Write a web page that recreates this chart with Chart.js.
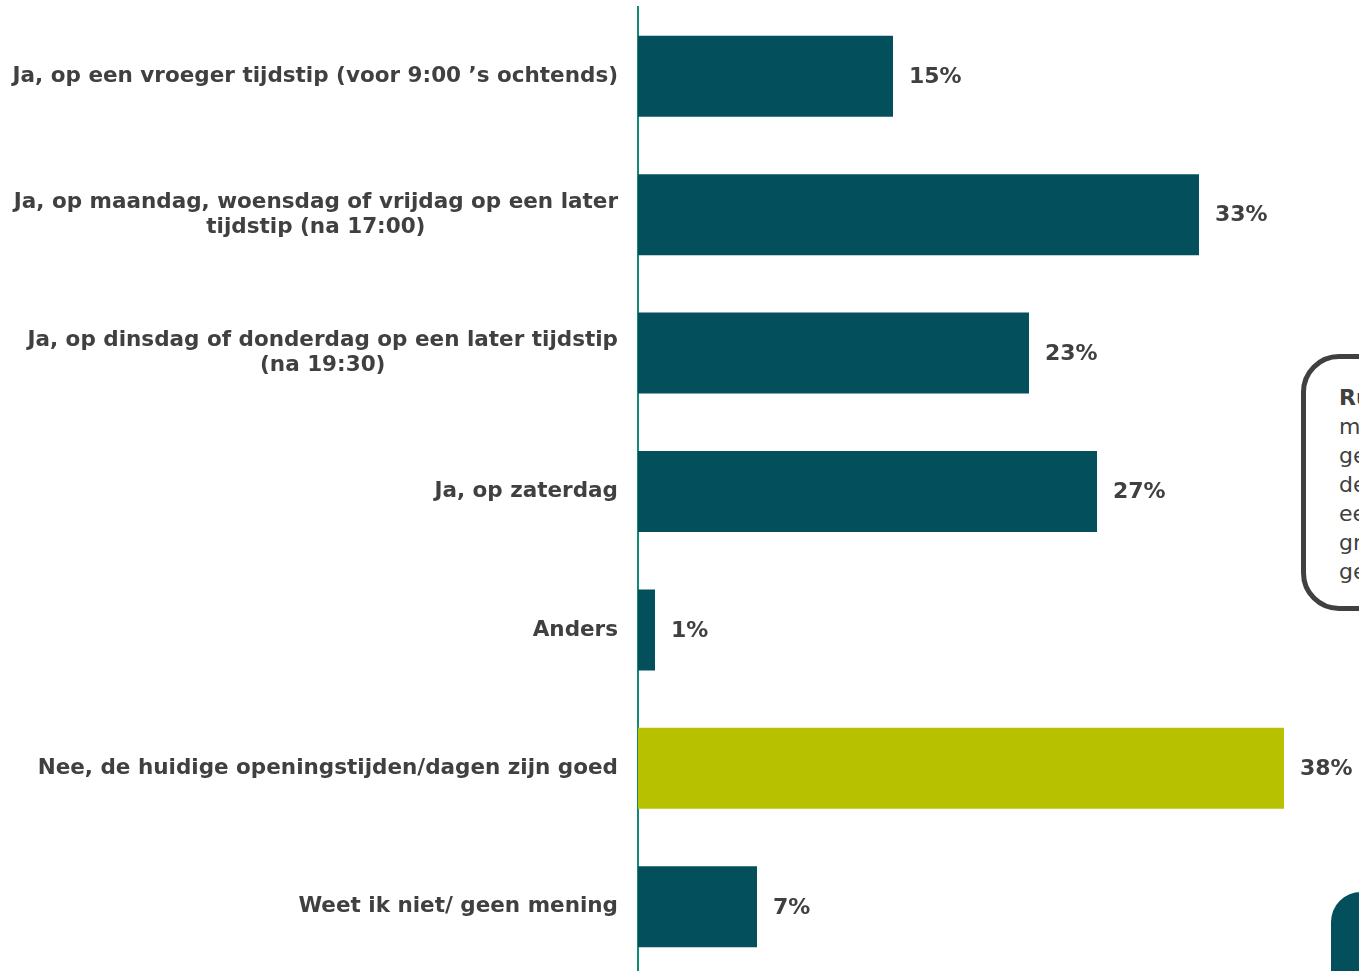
<!DOCTYPE html>
<html lang="nl">
<head>
<meta charset="utf-8">
<title>Openingstijden</title>
<script src="https://cdn.jsdelivr.net/npm/chart.js@4.4.1/dist/chart.umd.min.js"></script>
<style>
  html, body { margin: 0; padding: 0; background: #fff; overflow: hidden; }
  body { width: 1359px; height: 971px; position: relative; }
  #wrap { position: absolute; left: 0; top: 0; width: 1359px; height: 980px; }
  .note {
    position: absolute; left: 1301px; top: 354px; width: 260px; height: 257px;
    border: 5px solid #404040; border-radius: 38px; background: #fff;
    font-family: "DejaVu Sans", Verdana, sans-serif; font-size: 22px; line-height: 29px;
    color: #404040; padding: 24px 0 0 33px; box-sizing: border-box; white-space: nowrap;
  }
  .note b { font-weight: bold; }
  .tab {
    position: absolute; left: 1331px; top: 892px; width: 120px; height: 120px;
    background: #03505c; border-radius: 30px;
  }
</style>
</head>
<body>
<div id="wrap"><canvas id="chart" width="1359" height="980"></canvas></div>
<div class="note"><b>Ruim</b><br>meer<br>geeft<br>de<br>een<br>graag<br>gezien</div>
<div class="tab"></div>
<script>
// Antwoordcategorieën (meerregelig waar nodig)
const categories = [
  ['Ja, op een vroeger tijdstip (voor 9:00 ’s ochtends)'],
  ['Ja, op maandag, woensdag of vrijdag op een later', 'tijdstip (na 17:00)'],
  ['Ja, op dinsdag of donderdag op een later tijdstip', '(na 19:30)'],
  ['Ja, op zaterdag'],
  ['Anders'],
  ['Nee, de huidige openingstijden/dagen zijn goed'],
  ['Weet ik niet/ geen mening']
];
const percentages = [15, 33, 23, 27, 1, 38, 7];
const barColors = ['#03505c', '#03505c', '#03505c', '#03505c', '#03505c', '#b8c100', '#03505c'];

const TEXT = '#404040';
const LABEL_FONT = 'bold 21.5px "DejaVu Sans", Verdana, sans-serif';
const VALUE_FONT = 'bold 22px "DejaVu Sans", Verdana, sans-serif';

// eigen labels: rechts uitgelijnd blok, regels gecentreerd
const categoryLabels = {
  id: 'categoryLabels',
  afterDraw(chart) {
    const ctx = chart.ctx;
    const y = chart.scales.y;
    const right = chart.chartArea.left - 20;
    ctx.save();
    ctx.font = LABEL_FONT;
    ctx.fillStyle = TEXT;
    ctx.textAlign = 'center';
    ctx.textBaseline = 'middle';
    categories.forEach((lines, i) => {
      const cy = y.getPixelForValue(i);
      const w = Math.max(...lines.map(l => ctx.measureText(l).width));
      const cx = right - w / 2;
      const lh = 25;
      const top = cy - (lines.length - 1) * lh / 2;
      lines.forEach((l, j) => ctx.fillText(l, cx, top + j * lh));
    });
    ctx.restore();
  }
};

// percentages achter de balken
const valueLabels = {
  id: 'valueLabels',
  afterDatasetsDraw(chart) {
    const ctx = chart.ctx;
    const meta = chart.getDatasetMeta(0);
    ctx.save();
    ctx.font = VALUE_FONT;
    ctx.fillStyle = TEXT;
    ctx.textAlign = 'left';
    ctx.textBaseline = 'middle';
    meta.data.forEach((bar, i) => {
      ctx.fillText(percentages[i] + '%', bar.x + 16, bar.y + 1);
    });
    ctx.restore();
  }
};

new Chart(document.getElementById('chart'), {
  type: 'bar',
  data: {
    labels: categories.map(c => c.join(' ')),
    datasets: [{
      data: percentages,
      backgroundColor: barColors,
      categoryPercentage: 0.585,
      barPercentage: 1
    }]
  },
  options: {
    indexAxis: 'y',
    responsive: false,
    animation: false,
    layout: { padding: { top: 7, bottom: 4, left: 0, right: 41 } },
    plugins: { legend: { display: false }, tooltip: { enabled: false } },
    scales: {
      x: {
        min: 0, max: 40,
        display: false
      },
      y: {
        afterFit(scale) { scale.width = 638; },
        grid: { display: false, drawTicks: false },
        border: { display: true, color: '#138a72', width: 2 },
        ticks: { display: false }
      }
    }
  },
  plugins: [categoryLabels, valueLabels]
});
</script>
</body>
</html>
